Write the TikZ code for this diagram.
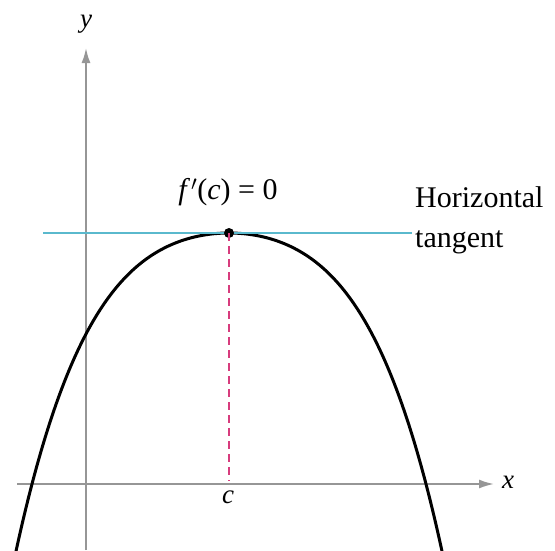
\documentclass[tikz,border=0pt]{standalone}
\usepackage{fontspec}
\setmainfont{Liberation Serif}
\usetikzlibrary{arrows.meta}
\definecolor{tangcol}{RGB}{90,185,205}
\definecolor{dashcol}{RGB}{215,60,125}
\definecolor{axiscol}{RGB}{150,150,150}
\begin{document}
\begin{tikzpicture}[x=1pt, y=-1pt,
  every node/.style={font=\fontsize{30}{40}\selectfont, inner sep=0pt},
  axis/.style={draw=axiscol, line width=1.8pt, -{Latex[length=15pt,width=9pt]}},
  lab/.style={font=\itshape\fontsize{27}{30}\selectfont}]
  \useasboundingbox (0,0) rectangle (555,550);
  % axes
  \coordinate (xl) at (17,484);
  \coordinate (xr) at (494,484);
  \coordinate (yb) at (86,550);
  \coordinate (yt) at (86,48);
  \draw[axis] (xl) -- (xr);
  \draw[axis] (yb) -- (yt);
  \node[lab] (xlab) at (508,482) {x};
  \node[lab] (ylab) at (86,24) {y};
  % curve
  \begin{scope}
    \clip (0,0) rectangle (555,550);
    \draw[line width=3pt] plot[domain=-230:230, samples=121, smooth]
      ({229+\x},{233+251*(0.5*(\x/197)^2+0.5*(\x/197)^4)});
  \end{scope}
  % tangent and point
  \coordinate (tl) at (43,233);
  \coordinate (tr) at (412,233);
  \draw[tangcol, line width=2pt] (tl) -- (tr);
  \coordinate (cfoot) at (229,481);
  \node[circle, fill=black, minimum size=10pt] (top) at (229,233) {};
  \draw[dashcol, line width=1.6pt, dash pattern=on 8pt off 5pt] (top.center) -- (cfoot);
  \node[lab] (clab) at (228,497) {c};
  \node (deriv) at (228,192) {\textit{f}\kern1pt$'$(\textit{c}) = 0};
  \node[anchor=north west, align=left] (htan) at (415,186) {Horizontal\\tangent};
\end{tikzpicture}
\end{document}
